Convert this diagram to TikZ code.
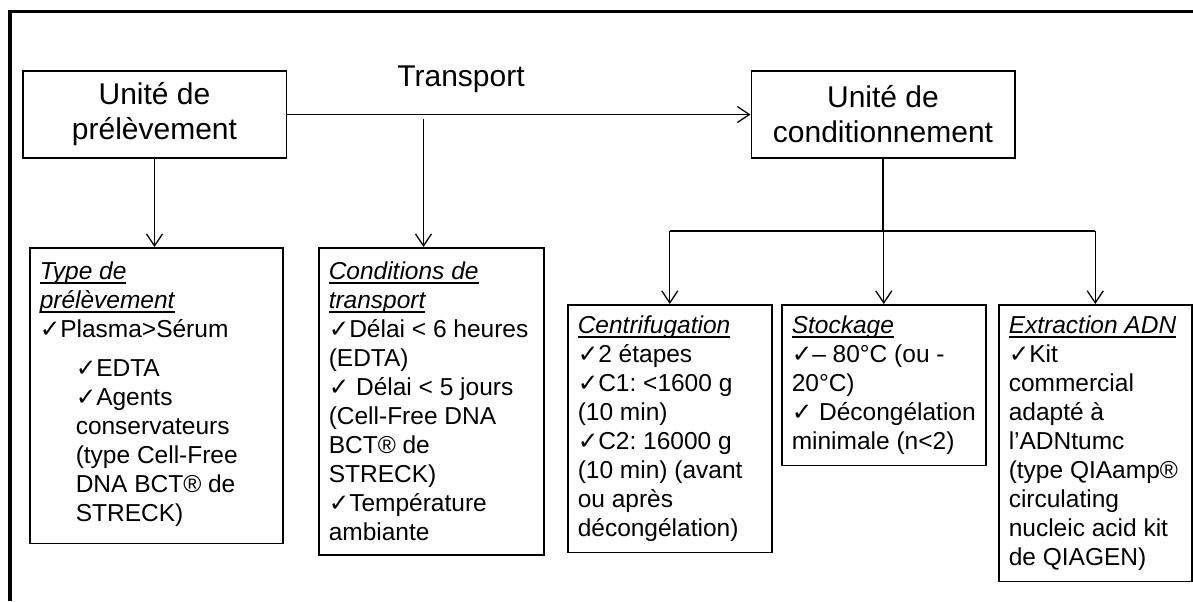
\documentclass[tikz,border=0pt]{standalone}
\usepackage{fontspec}
\setmainfont{Liberation Sans}
\newfontfamily\symfont{DejaVu Sans}
\usetikzlibrary{arrows.meta}
\frenchspacing
\newcommand{\chk}{{\symfont ✓}}
\newcommand{\head}[1]{\textit{\setbox0\hbox{#1}\rlap{\rule[-2pt]{\wd0}{0.6pt}}\box0}}

\begin{document}
\begin{tikzpicture}[x=0.5pt,y=-0.5pt,
  unit/.style={draw,line width=0.75pt,minimum width=131.75pt,minimum height=43.5pt,align=center,font=\fontsize{15}{17.5}\selectfont},
  note/.style={draw,line width=0.75pt,anchor=north west,align=flush left,inner xsep=5pt,inner ysep=7pt,font=\fontsize{12.25}{14.5}\selectfont},
  arr/.style={-{Straight Barb[length=6pt,width=8pt]},line width=0.65pt}]
\useasboundingbox (0,0) rectangle (1193,601);
\draw[line width=1.75pt] (10,601) -- (10,11.5) -- (1193,11.5);
\node[unit] (prel) at (154.5,114.5) {Unité de\\prélèvement};
\node[unit] (condi) at (883,114.5) {Unité de\\conditionnement};
\node[font=\fontsize{15}{18}\selectfont,anchor=base] (tlabel) at (461,86) {Transport};
\node[note,text width=116.5pt] (type) at (29,247) {\head{Type de}\\
\head{prélèvement}\\
\chk Plasma>Sérum\\[5pt]
\hspace*{18pt}\chk EDTA\\
\hspace*{18pt}\chk Agents\\
\hspace*{18pt}conservateurs\\
\hspace*{18pt}(type Cell-Free\\
\hspace*{18pt}DNA BCT® de\\
\hspace*{18pt}STRECK)\rule[-4pt]{0pt}{0pt}};
\node[note,text width=102.5pt] (transp) at (318,247) {\head{Conditions de}\\
\head{transport}\\
\chk Délai~<~6~heures\\
(EDTA)\\
\chk{} Délai < 5 jours\\
(Cell-Free DNA\\
BCT® de\\
STRECK)\\
\chk Température\\
ambiante};
\node[note,inner ysep=5.5pt,text width=92pt] (centri) at (567,304) {\head{Centrifugation}\\
\chk 2 étapes\\
\chk C1: <1600 g\\
(10 min)\\
\chk C2: 16000 g\\
(10~min)~(avant\\
ou après\\
décongélation)};
\node[note,inner ysep=5.5pt,text width=92pt] (stock) at (781,304) {\head{Stockage}\\
\chk{}– 80°C (ou -\\
20°C)\\
\chk{}~Décongélation\\
minimale (n<2)};
\node[note,inner ysep=5.5pt,text width=86.5pt] (extract) at (998,304) {\head{Extraction ADN}\\
\chk Kit\\
commercial\\
adapté à\\
l’ADNtumc\\
(type~QIAamp®\\
circulating\\
nucleic acid kit\\
de QIAGEN)};
\draw[arr] (prel.east) -- (condi.west);
\draw[arr] (prel.south) -- (prel.south |- type.north);
\coordinate (tdown) at (423.5,119);
\draw[arr] (tdown) -- (tdown |- transp.north);
\coordinate (split) at (883,231);
\draw[line width=0.65pt] (condi.south) -- (split);
\draw[line width=0.65pt] (centri.north |- split) -- (extract.north |- split);
\foreach \n in {centri,stock,extract}
\draw[arr] (\n.north |- split) -- (\n.north);
\end{tikzpicture}
\end{document}
